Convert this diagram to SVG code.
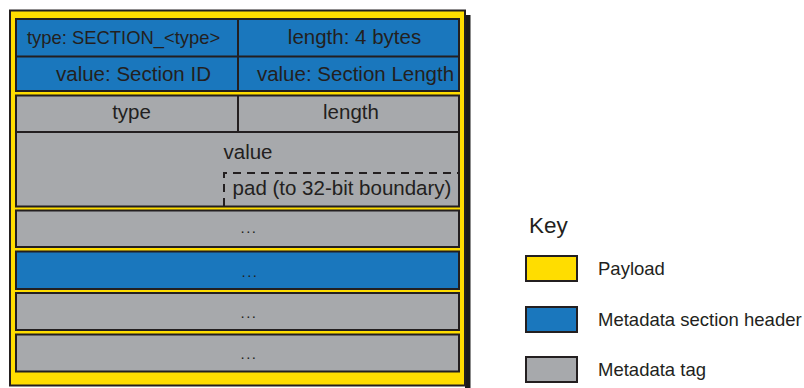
<svg xmlns="http://www.w3.org/2000/svg" width="804" height="388" viewBox="0 0 804 388">
  <style>
    .payload { fill: #ffdd00; stroke: #231f20; stroke-width: 2; }
    .hdr { fill: #1a77bd; stroke: #231f20; stroke-width: 2; }
    .tag { fill: #a7a9ac; stroke: #231f20; stroke-width: 2; }
    .div { stroke: #231f20; stroke-width: 2; fill: none; }
    .pad { stroke: #231f20; stroke-width: 2; fill: none; stroke-dasharray: 8 6; }
    text { font-family: "Liberation Sans", Arial, sans-serif; fill: #231f20; }
    .lbl { font-size: 20.5px; text-anchor: middle; }
    .dots { font-size: 15px; text-anchor: middle; letter-spacing: 1.5px; }
    .key { font-size: 18.5px; }
  </style>

  <!-- payload container with drop shadow -->
  <g id="payload">
    <rect x="465" y="15" width="5.5" height="373" fill="#1a1a1a"/>
    <rect class="payload" x="10" y="10.5" width="455" height="375"/>
  </g>

  <!-- metadata section header -->
  <g id="section-header">
    <rect class="hdr" x="16" y="19" width="443" height="72"/>
    <line class="div" x1="16" y1="56.5" x2="459" y2="56.5"/>
    <line class="div" x1="238" y1="19" x2="238" y2="91"/>
    <text x="27" y="44" font-size="18.4">type: SECTION_&lt;type&gt;</text>
    <text class="lbl" x="354.5" y="44">length: 4 bytes</text>
    <text class="lbl" x="133.5" y="81">value: Section ID</text>
    <text class="lbl" x="355.5" y="81">value: Section Length</text>
  </g>

  <!-- metadata tag: type / length / value -->
  <g id="tag-1">
    <rect class="tag" x="16" y="95.5" width="443" height="111"/>
    <line class="div" x1="16" y1="132" x2="459" y2="132"/>
    <line class="div" x1="238" y1="95.5" x2="238" y2="132"/>
    <path class="pad" d="M224,206 V173 H459"/>
    <text class="lbl" x="131.5" y="119">type</text>
    <text class="lbl" x="351" y="119">length</text>
    <text class="lbl" x="248" y="159">value</text>
    <text class="lbl" x="342" y="194.5">pad (to 32-bit boundary)</text>
  </g>

  <g id="tag-2">
    <rect class="tag" x="16" y="210.5" width="443" height="36.5"/>
    <text class="dots" x="249" y="233">...</text>
  </g>

  <g id="section-header-2">
    <rect class="hdr" x="16" y="251.5" width="443" height="37.5"/>
    <text class="dots" x="250" y="277">...</text>
  </g>

  <g id="tag-3">
    <rect class="tag" x="16" y="293" width="443" height="37"/>
    <text class="dots" x="249" y="318">...</text>
  </g>

  <g id="tag-4">
    <rect class="tag" x="16" y="334.5" width="443" height="37"/>
    <text class="dots" x="249" y="359">...</text>
  </g>

  <!-- legend -->
  <g id="key">
    <text x="529" y="233" font-size="22.5">Key</text>
    <rect class="payload" x="526" y="256" width="51" height="25"/>
    <text class="key" x="598" y="275">Payload</text>
    <rect class="hdr" x="526" y="307" width="51" height="25"/>
    <text class="key" x="598" y="326">Metadata section header</text>
    <rect class="tag" x="526" y="357" width="51" height="25"/>
    <text class="key" x="598" y="376">Metadata tag</text>
  </g>
</svg>
